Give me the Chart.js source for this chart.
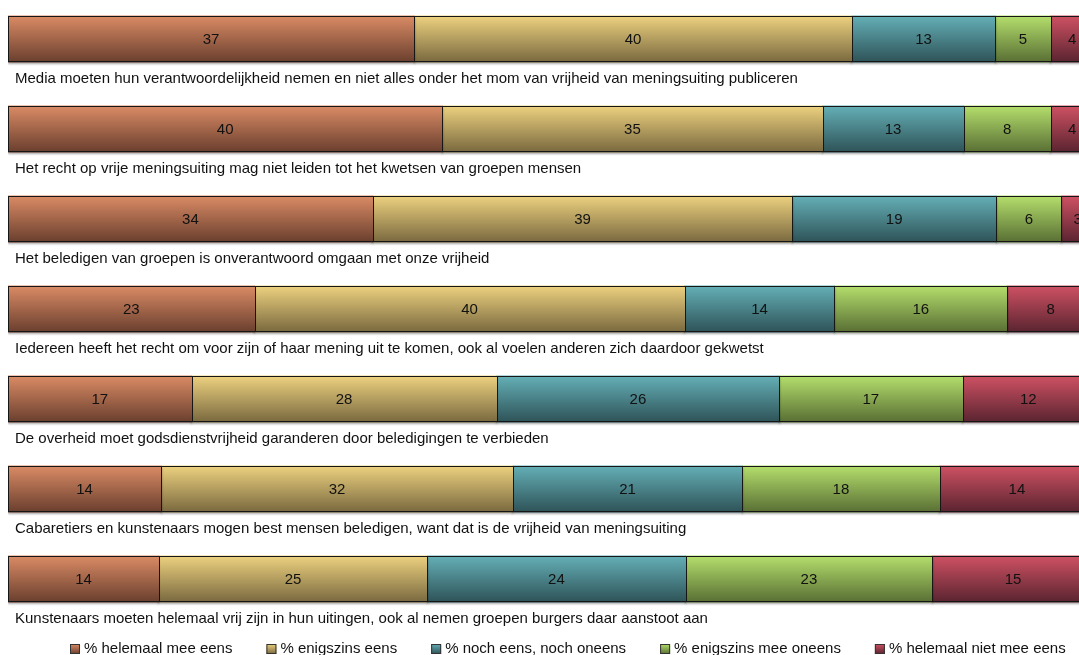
<!DOCTYPE html>
<html>
<head>
<meta charset="utf-8">
<script src="https://cdn.jsdelivr.net/npm/chart.js@4"></script>
<style>
html, body { margin: 0; padding: 0; background: #fff; overflow: hidden; width: 1079px; height: 655px; }
#wrap { position: absolute; left: 0; top: -6px; width: 1139px; height: 661px; }
</style>
</head>
<body>
<div id="wrap"><canvas id="chart"></canvas></div>
<script>
var stellingen = [
    'Media moeten hun verantwoordelijkheid nemen en niet alles onder het mom van vrijheid van meningsuiting publiceren',
    'Het recht op vrije meningsuiting mag niet leiden tot het kwetsen van groepen mensen',
    'Het beledigen van groepen is onverantwoord omgaan met onze vrijheid',
    'Iedereen heeft het recht om voor zijn of haar mening uit te komen, ook al voelen anderen zich daardoor gekwetst',
    'De overheid moet godsdienstvrijheid garanderen door beledigingen te verbieden',
    'Cabaretiers en kunstenaars mogen best mensen beledigen, want dat is de vrijheid van meningsuiting',
    'Kunstenaars moeten helemaal vrij zijn in hun uitingen, ook al nemen groepen burgers daar aanstoot aan'
];
var reeksen = ['% helemaal mee eens', '% enigszins eens', '% noch eens, noch oneens', '% enigszins mee oneens', '% helemaal niet mee eens'];
// percentages (afgerond weergegeven in de balken)
var helemaalEens = [37.4, 40.0, 33.6, 22.7, 16.9, 14.1, 13.9];
var enigszinsEens = [40.3, 35.0, 38.6, 39.6, 28.1, 32.4, 24.7];
var nochEens = [13.2, 13.0, 18.8, 13.8, 26.0, 21.1, 23.8];
var enigszinsOneens = [5.1, 8.0, 6.0, 15.9, 16.9, 18.2, 22.7];
var helemaalNiet = [4.0, 4.0, 3.0, 8.0, 12.1, 14.2, 14.9];

var kleurBoven = ['#da8b65', '#edd17f', '#64afb6', '#b4de6c', '#ce5163'];
var kleurOnder = ['#6a3f2e', '#7a693f', '#2e5358', '#596f34', '#5a2430'];
var lettertype = '"Liberation Sans", Arial, Helvetica, sans-serif';
var balkHoogte = 46;

function verloop(context, i) {
    var chart = context.chart;
    var y = chart.scales.y;
    if (!chart.chartArea || !y || context.dataIndex === undefined) return kleurBoven[i];
    var midden = y.getPixelForValue(context.dataIndex);
    var g = chart.ctx.createLinearGradient(0, midden - balkHoogte / 2, 0, midden + balkHoogte / 2);
    g.addColorStop(0, kleurBoven[i]);
    g.addColorStop(1, kleurOnder[i]);
    return g;
}

var reeksData = [helemaalEens, enigszinsEens, nochEens, enigszinsOneens, helemaalNiet];
var datasets = reeksData.map(function (d, i) {
    return {
        label: reeksen[i],
        data: d,
        backgroundColor: function (ctx) { return verloop(ctx, i); },
        borderWidth: 0,
        inflateAmount: 0.5,
        barPercentage: 0.511,
        categoryPercentage: 1.0
    };
});

var tekstPlugin = {
    id: 'teksten',
    beforeDatasetsDraw: function (chart) {
        var ctx = chart.ctx;
        ctx.save();
        ctx.shadowColor = 'rgba(0,0,0,0.35)';
        ctx.shadowOffsetY = 2;
        ctx.shadowBlur = 2;
    },
    afterDatasetsDraw: function (chart) {
        var ctx = chart.ctx;
        var ca = chart.chartArea;
        ctx.restore();

        // scherpe randen om elk balkdeel
        ctx.save();
        ctx.beginPath();
        ctx.rect(ca.left - 1, ca.top, ca.right - ca.left + 2, ca.bottom - ca.top);
        ctx.clip();
        ctx.strokeStyle = '#161616';
        ctx.lineWidth = 1;
        chart.data.datasets.forEach(function (ds, di) {
            chart.getDatasetMeta(di).data.forEach(function (bar) {
                var x0 = Math.round(bar.base), x1 = Math.round(bar.x);
                var y0 = Math.round(bar.y - bar.height / 2), y1 = Math.round(bar.y + bar.height / 2);
                ctx.strokeRect(x0 + 0.5, y0 + 0.5, x1 - x0, y1 - y0 - 1);
            });
        });
        ctx.restore();

        ctx.save();
        ctx.font = '15px ' + lettertype;
        ctx.fillStyle = '#111';
        ctx.textAlign = 'center';
        ctx.textBaseline = 'middle';
        chart.data.datasets.forEach(function (ds, di) {
            chart.getDatasetMeta(di).data.forEach(function (bar, j) {
                ctx.fillText(String(Math.round(ds.data[j])), (bar.x + bar.base) / 2, bar.y + 1);
            });
        });
        // stellingen onder de balken
        ctx.textAlign = 'left';
        var y = chart.scales.y;
        stellingen.forEach(function (s, j) {
            ctx.fillText(s, 15, y.getPixelForValue(j) + balkHoogte / 2 + 17);
        });
        // legenda
        var x = 70;
        var ly = 650;
        reeksen.forEach(function (r, i) {
            var g = ctx.createLinearGradient(0, ly, 0, ly + 10);
            g.addColorStop(0, kleurBoven[i]);
            g.addColorStop(1, kleurOnder[i]);
            ctx.fillStyle = g;
            ctx.fillRect(x, ly, 10, 10);
            ctx.strokeStyle = '#333';
            ctx.lineWidth = 1;
            ctx.strokeRect(x + 0.5, ly + 0.5, 9, 9);
            ctx.fillStyle = '#111';
            ctx.fillText(r, x + 14, ly + 5);
            x += 14 + ctx.measureText(r).width + 34;
        });
        ctx.restore();
    }
};

new Chart(document.getElementById('chart').getContext('2d'), {
    type: 'bar',
    data: { labels: stellingen, datasets: datasets },
    options: {
        indexAxis: 'y',
        responsive: true,
        maintainAspectRatio: false,
        animation: false,
        layout: { padding: { left: 8, right: 45, top: 0, bottom: 31 } },
        plugins: { legend: { display: false }, tooltip: { enabled: false } },
        scales: {
            x: { stacked: true, min: 0, max: 100, display: false },
            y: { stacked: true, display: false }
        }
    },
    plugins: [tekstPlugin]
});
</script>
</body>
</html>
